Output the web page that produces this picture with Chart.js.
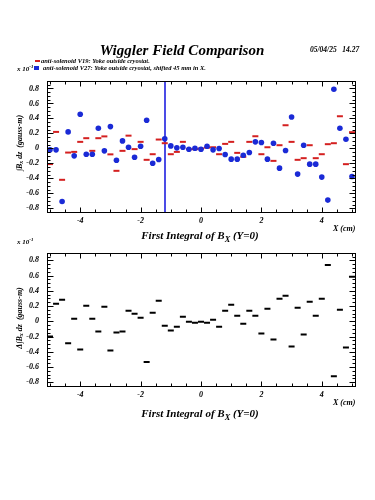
<!DOCTYPE html>
<html>
<head>
<meta charset="utf-8">
<script src="https://cdn.jsdelivr.net/npm/chart.js@4/dist/chart.umd.min.js"></script>
<style>
  body { margin: 0; background: #fff; }
  #page { position: relative; width: 375px; height: 500px; overflow: hidden;
          font-family: "Liberation Serif", "DejaVu Serif", serif; font-weight: bold; font-style: italic; color: #000; }
  canvas { position: absolute; left: 0; }
  .t { position: absolute; white-space: nowrap; line-height: 1; transform: translateY(-50%); }
  .c { transform: translate(-50%, -50%); }
  .rot { transform: translate(-50%, -50%) rotate(-90deg); }
  .mk { position: absolute; }
  sub { font-size: 75%; vertical-align: -0.3em; }
  sup { font-size: 70%; vertical-align: 0.5em; }
</style>
</head>
<body>
<div id="page">
  <canvas id="topChart" width="375" height="250" style="top:0"></canvas>
  <canvas id="diffChart" width="375" height="190" style="top:240px"></canvas>

  <div class="t c" style="left:182px; top:50px; font-size:15px;">Wiggler Field Comparison</div>
  <div class="t" style="left:310px; top:50px; font-size:7.5px;">05/04/25&nbsp;&nbsp;&nbsp;14.27</div>

  <div class="mk" style="left:35px; top:60px; width:5px; height:2px; background:#d42020;"></div>
  <div class="t" style="left:41px; top:61px; font-size:6.5px;">anti-solenoid V19: Yoke outside cryostat.</div>
  <div class="t" style="left:17px; top:69px; font-size:7px;">x 10<sup>-1</sup></div>
  <div class="mk" style="left:34px; top:66px; width:5px; height:4px; background:#1a2ad6;"></div>
  <div class="t" style="left:43px; top:68px; font-size:6.5px;">anti-solenoid V27: Yoke outside cryostat, shifted 45 mm in X.</div>

  <div class="t rot" style="left:20px; top:143px; font-size:8px;">&int;B<sub>x</sub> dz&nbsp;&nbsp;(gauss-m)</div>
  <div class="t" style="left:333px; top:229px; font-size:8px;">X (cm)</div>
  <div class="t c" style="left:200px; top:237px; font-size:11px;">First Integral of B<sub>X</sub> (Y=0)</div>

  <div class="t" style="left:17px; top:242px; font-size:7px;">x 10<sup>-1</sup></div>
  <div class="t rot" style="left:20px; top:318px; font-size:8px;">&Delta;&int;B<sub>x</sub> dz&nbsp;&nbsp;(gauss-m)</div>
  <div class="t" style="left:333px; top:403px; font-size:8px;">X (cm)</div>
  <div class="t c" style="left:200px; top:415px; font-size:11px;">First Integral of B<sub>X</sub> (Y=0)</div>
</div>
<script>
// x positions of the measurements (cm)
const xPos = [
  -5.0, -4.8, -4.6, -4.4, -4.2, -4.0, -3.8, -3.6, -3.4, -3.2,
  -3.0, -2.8, -2.6, -2.4, -2.2, -2.0, -1.8, -1.6, -1.4, -1.2,
  -1.0, -0.8, -0.6, -0.4, -0.2, 0.0, 0.2, 0.4, 0.6, 0.8,
  1.0, 1.2, 1.4, 1.6, 1.8, 2.0, 2.2, 2.4, 2.6, 2.8,
  3.0, 3.2, 3.4, 3.6, 3.8, 4.0, 4.2, 4.4, 4.6, 4.8, 5.0
];

// anti-solenoid V19 (red), units of 1e-1 gauss-m
const v19 = [
  -0.21, 0.22, -0.42, -0.056, -0.047, 0.087, 0.136, -0.033, 0.136, 0.16,
  -0.08, -0.30, -0.033, 0.17, -0.01, 0.087, -0.153, -0.078, 0.118, 0.069,
  -0.078, -0.047, 0.087, -0.011, -0.011, -0.002, 0.01, 0.015, -0.078, 0.06,
  0.087, -0.06, -0.113, 0.087, 0.162, -0.078, 0.015, -0.167, 0.042, 0.309,
  0.087, -0.153, -0.131, 0.042, -0.131, -0.078, 0.056, 0.069, 0.429, -0.211, 0.216
];

// anti-solenoid V27 (blue)
const v27 = [
  -0.02, -0.02, -0.71, 0.22, -0.10, 0.456, -0.078, -0.078, 0.269, -0.033,
  0.291, -0.158, 0.10, 0.015, -0.118, 0.029, 0.375, -0.198, -0.149, 0.127,
  0.033, 0.007, 0.015, -0.011, 0.002, -0.011, 0.029, -0.02, -0.002, -0.082,
  -0.144, -0.144, -0.091, -0.056, 0.087, 0.078, -0.144, 0.069, -0.264, -0.029,
  0.42, -0.344, 0.042, -0.211, -0.211, -0.384, -0.691, 0.789, 0.269, 0.122, -0.376
];

// difference panel (black)
const diff = [
  -0.20, 0.231, 0.283, -0.288, 0.035, -0.37, 0.205, 0.035, -0.135, 0.192,
  -0.383, -0.148, -0.135, 0.139, 0.10, 0.048, -0.536, 0.113, 0.27, -0.057,
  -0.122, -0.07, 0.061, -0.005, -0.018, -0.005, -0.018, 0.022, -0.07, 0.139,
  0.218, 0.074, -0.031, 0.139, 0.074, -0.161, 0.166, -0.24, 0.296, 0.335,
  -0.331, 0.179, -0.174, 0.257, 0.074, 0.296, 0.741, -0.723, 0.153, -0.344, 0.584
];

const xTicks = [-4, -2, 0, 2, 4];
const yTicks = [-0.8, -0.6, -0.4, -0.2, 0, 0.2, 0.4, 0.6, 0.8];
const markerX = -1.2; // blue vertical line in the upper panel

const X_MIN = -5.1, X_MAX = 5.1, Y_MIN = -0.85, Y_MAX = 0.9;

const pts = (ys) => xPos.map((x, i) => ({ x: x, y: ys[i] }));
const tickFont = { family: '"Liberation Serif", serif', size: 8, weight: 'bold', style: 'italic' };

// frame box with inward tick marks, plus optional vertical marker line
const frameTicks = {
  id: 'frameTicks',
  beforeDatasetsDraw(chart, args, opts) {
    if (opts.markX == null) return;
    const { ctx, chartArea: a, scales } = chart;
    const px = Math.round(scales.x.getPixelForValue(opts.markX));
    ctx.save();
    ctx.strokeStyle = '#1f1fe0';
    ctx.lineWidth = 1.6;
    ctx.beginPath();
    ctx.moveTo(px, a.top);
    ctx.lineTo(px, a.bottom);
    ctx.stroke();
    ctx.restore();
  },
  afterDraw(chart) {
    const { ctx, chartArea: a, scales } = chart;
    const L = Math.round(a.left) + 0.5, R = Math.round(a.right) + 0.5;
    const T = Math.round(a.top) + 0.5, B = Math.round(a.bottom) + 0.5;
    ctx.save();
    ctx.strokeStyle = '#000';
    ctx.lineWidth = 1;
    ctx.strokeRect(L, T, R - L, B - T);
    ctx.beginPath();
    for (let k = -10; k <= 10; k++) {
      const v = k * 0.5;
      const px = Math.round(scales.x.getPixelForValue(v)) + 0.5;
      const len = k % 4 === 0 ? 5 : 3;
      ctx.moveTo(px, B); ctx.lineTo(px, B - len);
      ctx.moveTo(px, T); ctx.lineTo(px, T + len);
    }
    for (let k = -17; k <= 18; k++) {
      const v = k * 0.05;
      const py = Math.round(scales.y.getPixelForValue(v)) + 0.5;
      const len = k % 4 === 0 ? 6 : 3;
      ctx.moveTo(L, py); ctx.lineTo(L + len, py);
      ctx.moveTo(R, py); ctx.lineTo(R - len, py);
    }
    ctx.stroke();
    ctx.restore();
  }
};

function makeChart(id, datasets, padTop, xAxisH, markX) {
  return new Chart(document.getElementById(id), {
    type: 'scatter',
    data: { datasets: datasets },
    options: {
      responsive: false,
      animation: false,
      devicePixelRatio: 1,
      layout: { padding: { top: padTop, right: 20, left: 0, bottom: 0 } },
      plugins: {
        legend: { display: false },
        tooltip: { enabled: false },
        frameTicks: { markX: markX }
      },
      scales: {
        x: {
          type: 'linear', min: X_MIN, max: X_MAX,
          grid: { display: false, drawTicks: false },
          border: { display: false },
          ticks: { font: tickFont, color: '#000', padding: 4, maxRotation: 0, autoSkip: false },
          afterBuildTicks: (s) => { s.ticks = xTicks.map((v) => ({ value: v })); },
          afterFit: (s) => { s.height = xAxisH; }
        },
        y: {
          type: 'linear', min: Y_MIN, max: Y_MAX,
          grid: { display: false, drawTicks: false },
          border: { display: false },
          ticks: {
            font: tickFont, color: '#000', padding: 8, autoSkip: false,
            callback: (v) => (v === 0 ? '0' : v.toFixed(1))
          },
          afterBuildTicks: (s) => { s.ticks = yTicks.map((v) => ({ value: v })); },
          afterFit: (s) => { s.width = 47; }
        }
      }
    },
    plugins: [frameTicks]
  });
}

makeChart('topChart', [
  {
    label: 'anti-solenoid V27',
    data: pts(v27),
    pointStyle: 'circle', pointRadius: 2.8,
    backgroundColor: '#1a2ad6', borderColor: '#1a2ad6', borderWidth: 0
  },
  {
    label: 'anti-solenoid V19',
    data: pts(v19),
    pointStyle: 'line', pointRadius: 3,
    backgroundColor: '#d42020', borderColor: '#d42020', borderWidth: 2
  }
], 81, 38, markerX);

makeChart('diffChart', [
  {
    label: 'V19 - V27',
    data: pts(diff),
    pointStyle: 'line', pointRadius: 3,
    backgroundColor: '#000', borderColor: '#000', borderWidth: 2
  }
], 12, 44, null);
</script>
</body>
</html>
